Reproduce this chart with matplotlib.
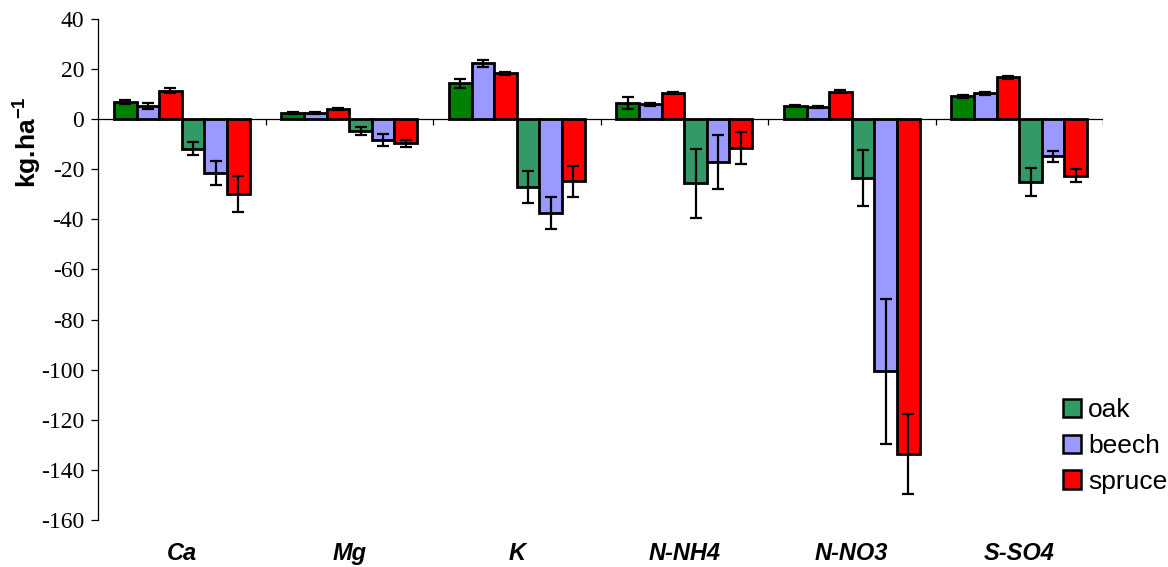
import numpy as np
import matplotlib
matplotlib.use('Agg')
import matplotlib.pyplot as plt
from matplotlib.patches import Patch

plt.rcParams['axes.unicode_minus'] = False
plt.rcParams['mathtext.fontset'] = 'custom'
plt.rcParams['mathtext.rm'] = 'Liberation Sans:bold'
plt.rcParams['mathtext.bf'] = 'Liberation Sans:bold'

categories = ['Ca', 'Mg', 'K', 'N-NH4', 'N-NO3', 'S-SO4']

# inputs (positive) and outputs (negative), kg.ha-1
oak_pos = [7.0, 2.5, 14.3, 6.5, 5.2, 9.2]
oak_pos_err = [0.8, 0.4, 1.9, 2.3, 0.5, 0.6]
beech_pos = [5.2, 2.3, 22.3, 5.9, 5.0, 10.3]
beech_pos_err = [1.2, 0.4, 1.4, 0.7, 0.4, 0.7]
spruce_pos = [11.3, 4.0, 18.3, 10.5, 11.0, 16.7]
spruce_pos_err = [1.0, 0.4, 0.5, 0.5, 0.5, 0.5]

oak_neg = [-11.7, -4.7, -27.0, -25.5, -23.3, -25.0]
oak_neg_err = [2.7, 1.7, 6.3, 13.8, 11.2, 5.7]
beech_neg = [-21.5, -8.4, -37.5, -17.0, -100.7, -14.8]
beech_neg_err = [4.8, 2.3, 6.5, 10.7, 28.9, 2.3]
spruce_neg = [-30.0, -9.7, -24.8, -11.5, -133.5, -22.5]
spruce_neg_err = [7.2, 1.5, 6.3, 6.2, 16.0, 2.5]

c_oak = '#008000'
c_oak_neg = '#339966'
c_beech = '#9999FF'
c_spruce = '#FF0000'

fig = plt.figure(figsize=(11.68, 5.67), dpi=100)
ax = fig.add_axes([98 / 1168, 1 - 520 / 567, (1103 - 98) / 1168, (520 - 19) / 567])

x = np.arange(len(categories))
w = 0.135
series = [
    (oak_pos, oak_pos_err, c_oak),
    (beech_pos, beech_pos_err, c_beech),
    (spruce_pos, spruce_pos_err, c_spruce),
    (oak_neg, oak_neg_err, c_oak_neg),
    (beech_neg, beech_neg_err, c_beech),
    (spruce_neg, spruce_neg_err, c_spruce),
]
for k, (vals, errs, col) in enumerate(series):
    pos = x + (k - 2.5) * w
    ax.bar(pos, vals, width=w, color=col, edgecolor='black', linewidth=2.0, zorder=3)
    ax.errorbar(pos, vals, yerr=errs, fmt='none', ecolor='black', elinewidth=1.6,
                capsize=4.3, capthick=1.6, zorder=4)

ax.set_xlim(-0.5, len(categories) - 0.5)
ax.set_ylim(-160, 40)
ax.set_yticks(np.arange(-160, 41, 20))

# zero line with category separators
ax.axhline(0, color='black', linewidth=0.9, zorder=2)
ax.vlines(x + 0.5, -2.4, 0, color='black', linewidth=0.9, zorder=2)

ax.spines['top'].set_visible(False)
ax.spines['right'].set_visible(False)
ax.spines['bottom'].set_visible(False)
ax.spines['left'].set_linewidth(0.9)

ax.set_xticks(x)
ax.set_xticklabels(categories, fontfamily='Liberation Sans', fontweight='bold',
                   fontstyle='italic', fontsize=17)
ax.tick_params(axis='x', length=0, pad=16)
ax.tick_params(axis='y', length=5, width=0.9, pad=5, labelsize=17)
for lab in ax.get_yticklabels():
    lab.set_fontfamily('Liberation Serif')

ax.set_ylabel('kg.ha$^{-1}$', fontfamily='Liberation Sans', fontweight='bold',
              fontsize=19)
ax.yaxis.set_label_coords(-0.055, 0.755)

handles = [Patch(facecolor=c_oak_neg, edgecolor='black', linewidth=1.8),
           Patch(facecolor=c_beech, edgecolor='black', linewidth=1.8),
           Patch(facecolor=c_spruce, edgecolor='black', linewidth=1.8)]
leg = fig.legend(handles, ['oak', 'beech', 'spruce'], loc='center left',
                 bbox_to_anchor=(1063 / 1168, 1 - 446 / 567), frameon=False,
                 prop={'family': 'Liberation Sans', 'size': 19},
                 handlelength=0.7, handleheight=0.7, handletextpad=0.25,
                 labelspacing=0.45, borderpad=0, borderaxespad=0)

fig.savefig('out.png', dpi=100)
